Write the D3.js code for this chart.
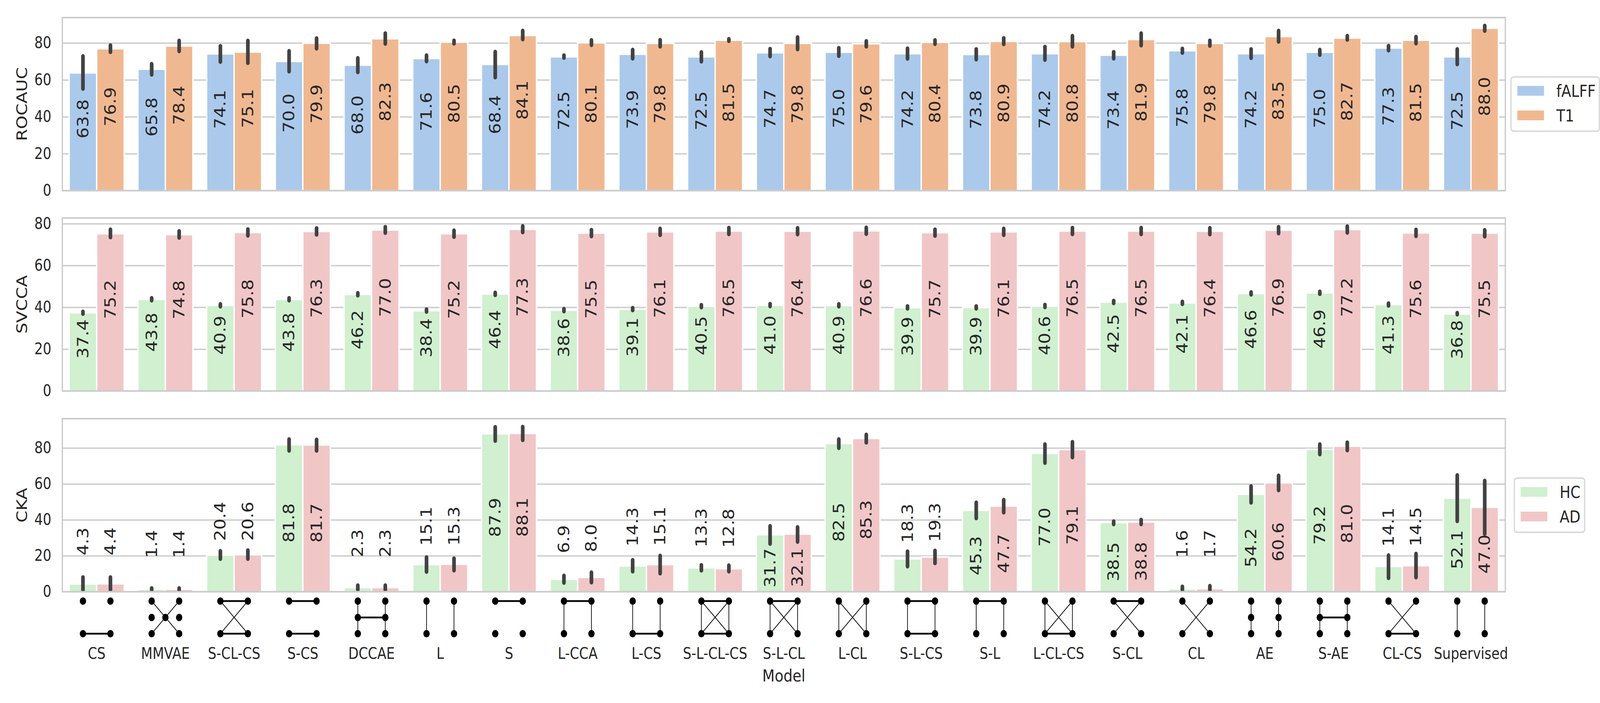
<!DOCTYPE html>
<html>
<head>
<meta charset="utf-8">
<title>Model comparison: ROCAUC, SVCCA, CKA</title>
<script src="https://cdn.jsdelivr.net/npm/d3@7"></script>
<style>
  html, body { margin: 0; padding: 0; background: #fff; overflow: hidden; }
  svg { display: block; width: 100vw; height: 100vh; }
  text { font-family: "DejaVu Sans", sans-serif; fill: #262626; }
</style>
</head>
<body>
<div id="chart"></div>
<script>
// ---- data ----
const models = ["CS", "MMVAE", "S-CL-CS", "S-CS", "DCCAE", "L", "S", "L-CCA", "L-CS", "S-L-CL-CS",
  "S-L-CL", "L-CL", "S-L-CS", "S-L", "L-CL-CS", "S-CL", "CL", "AE", "S-AE", "CL-CS", "Supervised"];

// ROCAUC
const falff   = [63.8, 65.8, 74.1, 70.0, 68.0, 71.6, 68.4, 72.5, 73.9, 72.5, 74.7, 75.0, 74.2, 73.8, 74.2, 73.4, 75.8, 74.2, 75.0, 77.3, 72.5];
const falffLo = [55.2, 62.9, 69.8, 64.6, 64.2, 70.1, 61.4, 72.0, 71.6, 70.0, 72.8, 73.0, 71.5, 71.1, 70.9, 71.6, 74.7, 71.9, 73.6, 76.0, 68.5];
const falffHi = [72.8, 68.6, 78.3, 75.6, 71.8, 73.3, 75.2, 73.3, 76.3, 75.0, 76.8, 77.2, 77.0, 76.6, 77.9, 75.1, 76.9, 76.6, 76.3, 78.4, 76.6];
const t1      = [76.9, 78.4, 75.1, 79.9, 82.3, 80.5, 84.1, 80.1, 79.8, 81.5, 79.8, 79.6, 80.4, 80.9, 80.8, 81.9, 79.8, 83.5, 82.7, 81.5, 88.0];
const t1Lo    = [75.1, 75.6, 69.2, 77.0, 79.6, 79.7, 82.0, 78.9, 78.1, 81.1, 76.6, 78.1, 79.5, 79.4, 78.1, 78.7, 78.5, 80.7, 81.8, 79.8, 86.6];
const t1Hi    = [78.7, 81.2, 81.2, 82.5, 85.2, 81.3, 86.6, 81.5, 81.6, 82.1, 83.1, 81.0, 81.5, 82.6, 83.8, 85.2, 81.3, 86.6, 83.8, 83.3, 89.3];

// SVCCA
const svHc   = [37.4, 43.8, 40.9, 43.8, 46.2, 38.4, 46.4, 38.6, 39.1, 40.5, 41.0, 40.9, 39.9, 39.9, 40.6, 42.5, 42.1, 46.6, 46.9, 41.3, 36.8];
const svHcLo = [36.9, 43.3, 40.4, 43.3, 45.7, 37.9, 45.9, 38.1, 38.6, 40.0, 40.5, 40.4, 39.4, 39.4, 40.1, 42.0, 41.6, 46.1, 46.4, 40.8, 36.6];
const svHcHi = [37.9, 44.4, 41.5, 44.4, 46.8, 39.0, 47.0, 39.2, 39.7, 41.1, 41.6, 41.5, 40.5, 40.5, 41.2, 43.1, 42.7, 47.2, 47.5, 41.9, 37.3];
const svAd   = [75.2, 74.8, 75.8, 76.3, 77.0, 75.2, 77.3, 75.5, 76.1, 76.5, 76.4, 76.6, 75.7, 76.1, 76.5, 76.5, 76.4, 76.9, 77.2, 75.6, 75.5];
const svAdLo = [73.5, 73.3, 74.3, 74.8, 75.6, 73.7, 75.9, 74.0, 74.6, 75.0, 74.9, 75.1, 74.2, 74.6, 75.0, 75.0, 74.9, 75.4, 75.7, 74.1, 73.9];
const svAdHi = [77.2, 76.4, 77.3, 77.8, 78.4, 76.7, 78.8, 77.0, 77.6, 78.0, 77.9, 78.1, 77.2, 77.6, 78.0, 78.0, 77.9, 78.4, 78.7, 77.1, 76.9];

// CKA
const ckHc   = [4.3, 1.4, 20.4, 81.8, 2.3, 15.1, 87.9, 6.9, 14.3, 13.3, 31.7, 82.5, 18.3, 45.3, 77.0, 38.5, 1.6, 54.2, 79.2, 14.1, 52.1];
const ckHcLo = [0.8, 1.0, 18.3, 78.5, 1.1, 11.1, 84.0, 5.0, 11.3, 11.8, 26.7, 80.0, 14.1, 40.9, 71.7, 37.6, 0.9, 49.6, 76.5, 7.6, 39.3];
const ckHcHi = [8.0, 1.9, 22.6, 84.8, 3.5, 19.1, 91.6, 8.9, 17.6, 14.8, 36.5, 84.8, 22.4, 49.6, 82.0, 39.1, 2.8, 58.7, 82.0, 20.2, 64.8];
const ckAd   = [4.4, 1.4, 20.6, 81.7, 2.3, 15.3, 88.1, 8.0, 15.1, 12.8, 32.1, 85.3, 19.3, 47.7, 79.1, 38.8, 1.7, 60.6, 81.0, 14.5, 47.0];
const ckAdLo = [0.8, 1.0, 18.3, 78.5, 1.1, 11.9, 84.4, 5.2, 10.2, 11.3, 27.8, 83.0, 15.9, 44.1, 74.8, 37.6, 0.9, 56.5, 78.7, 8.0, 32.2];
const ckAdHi = [8.0, 1.9, 23.0, 84.6, 3.5, 18.5, 91.7, 10.7, 20.0, 14.6, 35.9, 87.4, 22.8, 51.1, 83.3, 40.0, 3.2, 64.6, 83.0, 21.1, 61.7];

const yTicks = [0, 20, 40, 60, 80];

// connectivity glyph under each model: T top bar, B bottom bar, V side links,
// V6 side links through a middle row, H middle bar, X cross, XC cross through a centre node
const glyphs = ["B", "XC", "T X B", "T B", "V6 H", "V", "T", "T V", "V B", "T V X B",
  "T V X", "V X", "T V B", "T V", "V X B", "T X", "X", "V6", "V6 H", "X B", "V"];

// ---- layout ----
const W = 4800, H = 1800;
const left = 187, right = 4516;
const panelH = 443;

// drawn in a 4800x1800 frame, stretched to whatever the window is
const svg = d3.select("#chart").append("svg")
  .attr("viewBox", `0 0 ${W} ${H}`)
  .attr("preserveAspectRatio", "none");
svg.append("rect").attr("width", W).attr("height", H).attr("fill", "#fff");

const x = d3.scaleBand().domain(models).range([left, right]).padding(0);
const bw = x.bandwidth();
const inner = d3.scaleBand().domain([0, 1]).range([bw * 0.1, bw * 0.9]).padding(0);

const panels = [
  { title: "ROCAUC", top: 45, mode: "mid",
    series: [
      { name: "fALFF", v: falff, lo: falffLo, hi: falffHi, color: "#abc9eb" },
      { name: "T1", v: t1, lo: t1Lo, hi: t1Hi, color: "#f0b891" }],
    legend: { x: 4533, w: 265 } },
  { title: "SVCCA", top: 558, mode: "mid",
    series: [
      { name: "HC", v: svHc, lo: svHcLo, hi: svHcHi, color: "#d0f0cf" },
      { name: "AD", v: svAd, lo: svAdLo, hi: svAdHi, color: "#f1c6c7" }] },
  { title: "CKA", top: 1072, mode: "cka",
    series: [
      { name: "HC", v: ckHc, lo: ckHcLo, hi: ckHcHi, color: "#d0f0cf" },
      { name: "AD", v: ckAd, lo: ckAdLo, hi: ckAdHi, color: "#f1c6c7" }],
    legend: { x: 4543, w: 211 }, xaxis: true }
];

panels.forEach(p => {
  const bottom = p.top + panelH;
  const ymax = d3.max(p.series, s => d3.max(s.hi)) * 1.05;
  const y = d3.scaleLinear().domain([0, ymax]).range([bottom, p.top]);
  const g = svg.append("g");

  // grid
  g.append("g")
    .attr("transform", `translate(${left},0)`)
    .call(d3.axisLeft(y).tickValues(yTicks).tickSize(-(right - left)).tickFormat(""))
    .call(a => a.select(".domain").remove())
    .call(a => a.selectAll("line").attr("stroke", "#cccccc").attr("stroke-width", 3.5));

  // y ticks
  g.append("g")
    .attr("transform", `translate(${left},0)`)
    .call(d3.axisLeft(y).tickValues(yTicks).tickSize(0).tickPadding(33))
    .call(a => a.select(".domain").remove())
    .call(a => a.selectAll("text").attr("font-size", 40).attr("fill", "#262626")
      .style("font-family", "DejaVu Sans"));

  g.append("text")
    .attr("transform", `translate(66,${(p.top + bottom) / 2}) rotate(-90)`)
    .attr("text-anchor", "middle")
    .attr("dominant-baseline", "central")
    .attr("font-size", 44)
    .text(p.title);

  // bars, error bars, labels
  p.series.forEach((s, si) => {
    const cx = i => x(models[i]) + inner(si) + inner.bandwidth() / 2;
    const sg = g.append("g");
    sg.selectAll("rect").data(s.v).join("rect")
      .attr("x", (d, i) => x(models[i]) + inner(si))
      .attr("width", inner.bandwidth())
      .attr("y", d => y(d))
      .attr("height", d => y(0) - y(d))
      .attr("fill", s.color)
      .attr("stroke", "#fff")
      .attr("stroke-width", 4);

    sg.selectAll("line").data(s.v).join("line")
      .attr("x1", (d, i) => cx(i)).attr("x2", (d, i) => cx(i))
      .attr("y1", (d, i) => y(s.lo[i])).attr("y2", (d, i) => y(s.hi[i]))
      .attr("stroke", "#424242")
      .attr("stroke-width", 11)
      .attr("stroke-linecap", "round");

    // small CKA bars get their label above the bar
    const outside = d => p.mode === "cka" && d < 25;
    sg.selectAll("text").data(s.v).join("text")
      .attr("transform", (d, i) => {
        const ym = y(d / 2);
        const ty = p.mode === "mid" ? ym - 33 : (outside(d) ? ym - 83 : ym + 12);
        return `translate(${cx(i)},${ty}) rotate(-90)`;
      })
      .attr("text-anchor", d => outside(d) ? "start" : "middle")
      .attr("dominant-baseline", "central")
      .attr("font-size", 45)
      .text(d => d.toFixed(1));
  });

  // frame
  g.append("rect")
    .attr("x", left).attr("y", p.top)
    .attr("width", right - left).attr("height", panelH)
    .attr("fill", "none")
    .attr("stroke", "#cccccc")
    .attr("stroke-width", 4);

  // legend
  if (p.legend) {
    const lh = 139;
    const ly = (p.top + bottom) / 2 - lh / 2;
    const lg = g.append("g").attr("transform", `translate(${p.legend.x},${ly})`);
    lg.append("rect")
      .attr("width", p.legend.w).attr("height", lh)
      .attr("rx", 8)
      .attr("fill", "#fff")
      .attr("stroke", "#d6d6d6")
      .attr("stroke-width", 3.5);
    p.series.forEach((s, si) => {
      const row = 35.5 + si * 63;
      lg.append("rect")
        .attr("x", 19).attr("y", row - 12.5)
        .attr("width", 80).attr("height", 25)
        .attr("fill", s.color);
      lg.append("text")
        .attr("x", 136).attr("y", row)
        .attr("dominant-baseline", "central")
        .attr("font-size", 43)
        .text(s.name);
    });
  }

  if (p.xaxis) {
    g.append("g")
      .attr("transform", `translate(0,${bottom})`)
      .call(d3.axisBottom(x).tickSize(0).tickPadding(144))
      .call(a => a.select(".domain").remove())
      .call(a => a.selectAll("text").attr("font-size", 40).attr("fill", "#262626")
        .style("font-family", "DejaVu Sans"));

    g.append("text")
      .attr("x", (left + right) / 2).attr("y", 1745)
      .attr("text-anchor", "middle")
      .attr("font-size", 43)
      .text("Model");

    // connectivity glyphs
    const rows = [bottom + 24, bottom + 66, bottom + 107.5];
    const gg = g.append("g");
    glyphs.forEach((code, i) => {
      const xl = x(models[i]) + inner(0) + inner.bandwidth() / 2;
      const xr = x(models[i]) + inner(1) + inner.bandwidth() / 2;
      const xm = (xl + xr) / 2;
      const parts = code.split(" ");
      const six = parts.includes("V6") || parts.includes("XC");
      const seg = (x1, y1, x2, y2, w) => gg.append("line")
        .attr("x1", x1).attr("y1", y1).attr("x2", x2).attr("y2", y2)
        .attr("stroke", "#000").attr("stroke-width", w);
      parts.forEach(t => {
        if (t === "T") seg(xl, rows[0], xr, rows[0], 4.5);
        if (t === "B") seg(xl, rows[2], xr, rows[2], 4.5);
        if (t === "H") seg(xl, rows[1], xr, rows[1], 4.5);
        if (t === "V" || t === "V6") { seg(xl, rows[0], xl, rows[2], 2); seg(xr, rows[0], xr, rows[2], 2); }
        if (t === "X" || t === "XC") { seg(xl, rows[0], xr, rows[2], 2); seg(xr, rows[0], xl, rows[2], 2); }
      });
      const nodes = [[xl, rows[0]], [xr, rows[0]], [xl, rows[2]], [xr, rows[2]]];
      if (six) nodes.push([xl, rows[1]], [xr, rows[1]]);
      if (parts.includes("XC")) nodes.push([xm, rows[1]]);
      gg.selectAll(null).data(nodes).join("circle")
        .attr("cx", d => d[0]).attr("cy", d => d[1])
        .attr("r", 9.5).attr("fill", "#000");
    });
  }
});
</script>
</body>
</html>
